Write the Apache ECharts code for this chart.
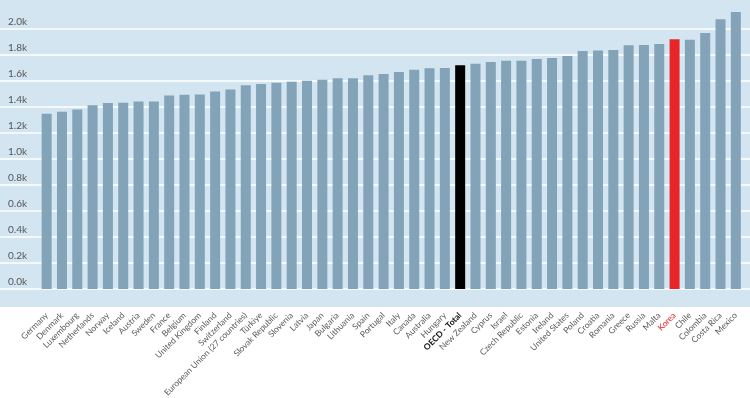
<!DOCTYPE html>
<html>
<head>
<meta charset="utf-8">
<script src="https://cdn.jsdelivr.net/npm/echarts@6/dist/echarts.min.js"></script>
<style>
  html, body { margin: 0; padding: 0; background: #fff; }
  #chart { width: 750px; height: 398px; }
</style>
</head>
<body>
<div id="chart"></div>
<script>
const countries = ['Germany', 'Denmark', 'Luxembourg', 'Netherlands', 'Norway', 'Iceland', 'Austria', 'Sweden',
  'France', 'Belgium', 'United Kingdom', 'Finland', 'Switzerland', 'European Union (27 countries)', 'Türkiye',
  'Slovak Republic', 'Slovenia', 'Latvia', 'Japan', 'Bulgaria', 'Lithuania', 'Spain', 'Portugal', 'Italy',
  'Canada', 'Australia', 'Hungary', 'OECD - Total', 'New Zealand', 'Cyprus', 'Israel', 'Czech Republic',
  'Estonia', 'Ireland', 'United States', 'Poland', 'Croatia', 'Romania', 'Greece', 'Russia', 'Malta',
  'Korea', 'Chile', 'Colombia', 'Costa Rica', 'Mexico'];

const hours = [1346, 1362, 1379, 1412, 1428, 1431, 1441, 1441, 1487, 1492, 1495, 1518, 1533, 1566, 1574,
  1585, 1592, 1600, 1608, 1618, 1618, 1641, 1651, 1666, 1685, 1695, 1697, 1718, 1731, 1743, 1754, 1754,
  1766, 1774, 1789, 1828, 1833, 1835, 1872, 1874, 1882, 1918, 1915, 1966, 2072, 2128];

const highlight = { 'OECD - Total': '#000000', 'Korea': '#e8262a' };

const chart = echarts.init(document.getElementById('chart'));

const labelFont = 'Lato, sans-serif';

// gridlines 0.0k .. 2.0k only, none above
const lineColors = [];
for (let i = 0; i < 11; i++) lineColors.push('#ffffff');
lineColors.push('rgba(0,0,0,0)', 'rgba(0,0,0,0)');

chart.setOption({
  animation: false,
  graphic: [{
    type: 'rect',
    z: -10,
    shape: { x: 0, y: 0, width: 750, height: 307 },
    style: { fill: '#d3e5f0' }
  }],
  grid: [
    { left: 0, right: 0, top: 0, bottom: 109, outerBoundsMode: 'none', containLabel: false },
    { left: 39, right: 6.5, top: 0, bottom: 109, outerBoundsMode: 'none', containLabel: false }
  ],
  xAxis: [
    { gridIndex: 0, type: 'value', show: false },
    {
      gridIndex: 1,
      type: 'category',
      data: countries.map(c => ({
        value: c,
        textStyle: c === 'Korea' ? { color: '#e8262a' } :
          c === 'OECD - Total' ? { color: '#111', fontWeight: 'bold' } : {}
      })),
      axisLine: { show: false },
      axisTick: { show: false },
      axisLabel: {
        interval: 0,
        rotate: 45,
        margin: 25,
        fontSize: 8.5,
        fontFamily: labelFont,
        color: '#5a5a5a'
      }
    }
  ],
  yAxis: [
    {
      gridIndex: 0,
      type: 'value',
      min: 0,
      max: 2220,
      interval: 200,
      axisLine: { show: false },
      axisTick: { show: false },
      splitLine: { lineStyle: { color: lineColors, width: 1.5 } },
      axisLabel: {
        inside: true,
        margin: 8,
        verticalAlign: 'bottom',
        padding: [0, 0, 2, 0],
        fontSize: 10,
        fontFamily: labelFont,
        color: '#555',
        formatter: v => (v > 2000 ? '' : (v / 1000).toFixed(1) + 'k')
      }
    },
    { gridIndex: 1, type: 'value', min: 0, max: 2220, show: false }
  ],
  series: [{
    type: 'bar',
    xAxisIndex: 1,
    yAxisIndex: 1,
    barWidth: 10,
    data: countries.map((c, i) => ({
      value: hours[i],
      itemStyle: { color: highlight[c] || '#83a3b8' }
    }))
  }]
});
</script>
</body>
</html>
